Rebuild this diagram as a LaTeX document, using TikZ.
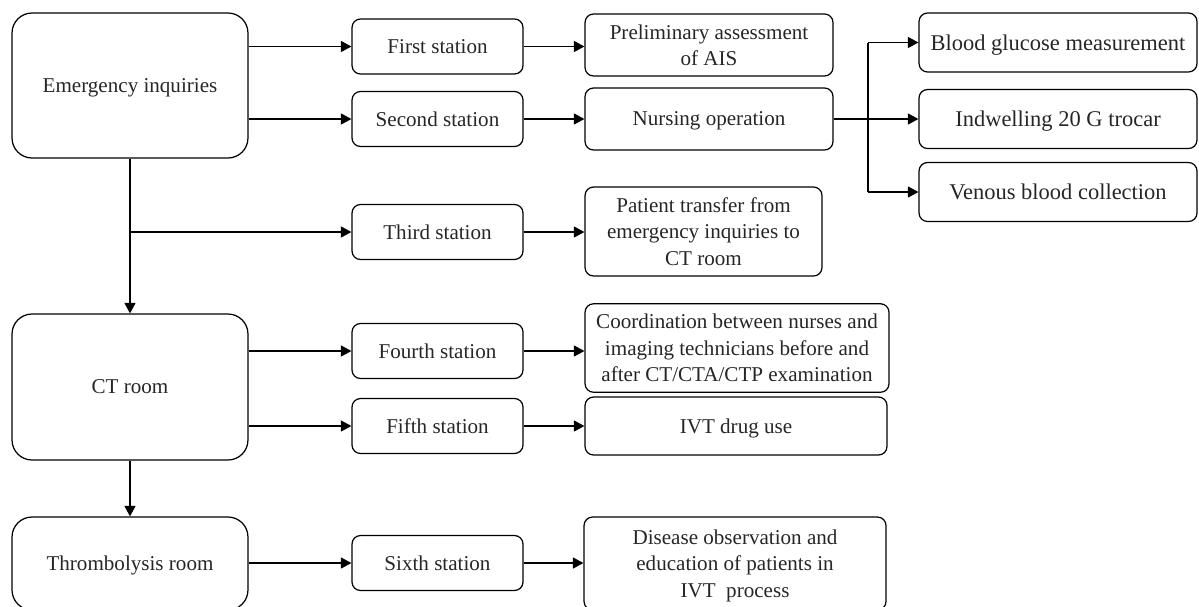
\documentclass[tikz,border=0pt]{standalone}
\usepackage{fontspec}
\setmainfont{LiberationSerif}[Extension=.ttf,UprightFont=*-Regular,BoldFont=*-Bold]
\usetikzlibrary{arrows.meta}

\begin{document}
\begin{tikzpicture}[x=0.02cm,y=-0.02cm,base/.style={draw,line width=.7pt,align=center,inner sep=2pt,text depth=0pt,text=black!85,font=\fontsize{12}{15}\selectfont},room/.style={base,rounded corners=0.4cm,minimum width=4.72cm},stn/.style={base,rounded corners=0.17cm,minimum width=3.42cm,minimum height=1.1cm},task/.style={base,rounded corners=0.17cm},sub/.style={task,minimum width=5.56cm,minimum height=1.18cm,font=\fontsize{12.8}{15}\selectfont},arr/.style={-{Triangle[length=2.1mm,width=2.2mm]},line width=.7pt}]
\useasboundingbox (0,0) rectangle (1199,606);

\node[room,minimum height=2.9cm] (er) at(130,85.5) {Emergency inquiries};
\node[room,minimum height=2.92cm] (ct) at(130,387) {CT room};
\node[room,minimum height=1.86cm] (tr) at(130,563.5) {Thrombolysis room};

\node[stn] (s1) at(437.5,46.5) {First station};
\node[stn] (s2) at(437.5,119) {Second station};
\node[stn] (s3) at(437.5,232) {Third station};
\node[stn] (s4) at(437.5,351) {Fourth station};
\node[stn] (s5) at(437.5,426) {Fifth station};
\node[stn] (s6) at(437.5,563) {Sixth station};

\node[task,minimum width=4.96cm,minimum height=1.24cm] (t1) at(709,45) {Preliminary assessment\\of AIS};
\node[task,minimum width=4.96cm,minimum height=1.24cm] (t2) at(709,119) {Nursing operation};
\node[task,minimum width=4.74cm,minimum height=1.78cm] (t3) at(703.5,231.5) {Patient transfer from\\emergency inquiries to\\CT room};
\node[task,minimum width=6.08cm,minimum height=1.77cm] (t4) at(737,348) {Coordination between nurses and\\imaging technicians before and\\after CT/CTA/CTP examination};
\node[task,minimum width=6.04cm,minimum height=1.16cm] (t5) at(736,426) {IVT drug use};
\node[task,minimum width=6.04cm,minimum height=1.86cm] (t6) at(735,563.5) {Disease observation and\\education of patients in\\IVT\ \ process};

\node[sub] (g1) at(1058,42.5) {Blood glucose measurement};
\node[sub] (g2) at(1058,119) {Indwelling 20 G trocar};
\node[sub] (g3) at(1058,192) {Venous blood collection};

\draw[arr] (er.east |- s1.west)--(s1.west);
\draw[arr] (er.east |- s2.west)--(s2.west);
\draw[arr] (er)--(ct);
\draw[arr] (er.south |- s3.west)--(s3.west);
\draw[arr] (ct.east |- s4.west)--(s4.west);
\draw[arr] (ct.east |- s5.west)--(s5.west);
\draw[arr] (ct)--(tr);
\draw[arr] (tr.east |- s6.west)--(s6.west);

\draw[arr] (s1)--(s1 -| t1.west);
\draw[arr] (s2)--(s2 -| t2.west);
\draw[arr] (s3)--(s3 -| t3.west);
\draw[arr] (s4)--(s4 -| t4.west);
\draw[arr] (s5)--(s5 -| t5.west);
\draw[arr] (s6)--(s6 -| t6.west);

\coordinate (br) at(868,119);
\draw[line width=.7pt] (t2)--(br);
\draw[line width=.7pt] (br |- g1.west)--(br |- g3.west);
\draw[arr] (br |- g1.west)--(g1.west);
\draw[arr] (br |- g2.west)--(g2.west);
\draw[arr] (br |- g3.west)--(g3.west);
\end{tikzpicture}
\end{document}
